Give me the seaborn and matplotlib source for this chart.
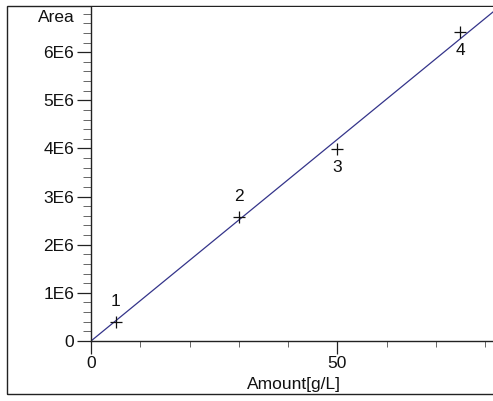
import matplotlib
matplotlib.use("Agg")
import matplotlib.pyplot as plt
import seaborn as sns
import pandas as pd
from matplotlib.patches import Rectangle
from matplotlib.ticker import FixedLocator, MultipleLocator

# ---- data ----
amount = [5, 30, 50, 75]
area = [0.40e6, 2.58e6, 3.99e6, 6.43e6]
point_labels = ["1", "2", "3", "4"]
label_side = ["above", "above", "below", "below"]
fit_x = [0, 82]
fit_y = [0, 6.87e6]
y_ticks = [0, 1e6, 2e6, 3e6, 4e6, 5e6, 6e6]
y_tick_labels = ["0", "1E6", "2E6", "3E6", "4E6", "5E6", "6E6"]
x_ticks = [0, 50]
x_tick_labels = ["0", "50"]

sns.set_style("white")
plt.rcParams["font.family"] = ["Liberation Sans", "DejaVu Sans"]

W, H = 493, 401
fig = plt.figure(figsize=(W / 100, H / 100), dpi=100)
ax = fig.add_axes([91 / W, (H - 341) / H, (W - 91) / W, (341 - 7) / H])

pts = pd.DataFrame({"amount": amount, "area": area})
fit = pd.DataFrame({"x": fit_x, "y": fit_y})

sns.lineplot(data=fit, x="x", y="y", ax=ax, color="#34348a", linewidth=0.9)
sns.scatterplot(data=pts, x="amount", y="area", ax=ax, marker="+", s=85,
                color="#111", linewidth=0.9, zorder=5)

for x, y, lbl, side in zip(amount, area, point_labels, label_side):
    dy = 14.5 if side == "above" else -13.5
    ax.annotate(lbl, (x, y), xytext=(0, dy), textcoords="offset points",
                ha="center", va="center", fontsize=12.5, color="#111")

ax.set_xlim(0, 81.6)
ax.set_ylim(0, 6.94e6)
ax.set_xlabel("")
ax.set_ylabel("")

ax.yaxis.set_major_locator(FixedLocator(y_ticks))
ax.set_yticklabels(y_tick_labels)
ax.yaxis.set_minor_locator(MultipleLocator(2e5))
ax.xaxis.set_major_locator(FixedLocator(x_ticks))
ax.set_xticklabels(x_tick_labels)
ax.xaxis.set_minor_locator(MultipleLocator(10))

for s in ["top", "right"]:
    ax.spines[s].set_visible(False)
for s in ["left", "bottom"]:
    ax.spines[s].set_color("#222")
    ax.spines[s].set_linewidth(1.0)

ax.tick_params(axis="y", which="major", length=10, width=0.9, direction="out",
               pad=2, labelsize=12.5, colors="#222", left=True)
ax.tick_params(axis="y", which="minor", length=6, width=0.7, direction="out",
               colors="#666", left=True)
ax.tick_params(axis="x", which="major", length=9, width=0.9, direction="out",
               pad=2, labelsize=12.5, colors="#222", bottom=True)
ax.tick_params(axis="x", which="minor", length=4, width=0.7, direction="out",
               colors="#666", bottom=True)
for t in ax.get_yticklabels() + ax.get_xticklabels():
    t.set_color("#111")

# outer frame: left, top (grey) and bottom lines; right side runs off the image
fig.add_artist(Rectangle((7 / W, (H - 394) / H), (W + 10 - 7) / W, (394 - 6) / H,
                         transform=fig.transFigure, fill=False,
                         edgecolor="#222", linewidth=1.0, zorder=0))

fig.text(75 / W, 1 - 17 / H, "Area", ha="right", va="center",
         fontsize=12.5, color="#111")
fig.text(294 / W, 1 - 384 / H, "Amount[g/L]", ha="center", va="center",
         fontsize=12.5, color="#111",
         bbox=dict(facecolor="white", edgecolor="none", pad=0.5), zorder=3)

fig.savefig("out.png", dpi=100)
